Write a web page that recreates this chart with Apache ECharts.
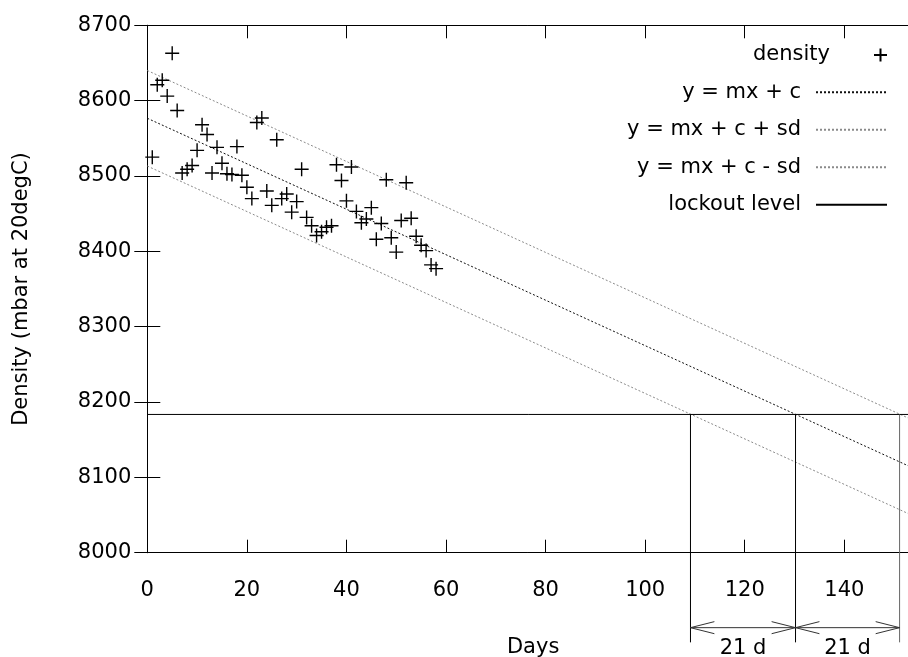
<!DOCTYPE html>
<html><head><meta charset="utf-8">
<script src="https://cdn.jsdelivr.net/npm/echarts@6/dist/echarts.min.js"></script>
<style>html,body{margin:0;padding:0;background:#fff}#c{width:908px;height:657px}</style>
</head><body><div id="c"></div>
<script>
// ---- data ----
const days = [1,2,3,4,5,6,7,8,9,10,11,12,13,14,15,16,17,18,19,20,21,22,23,24,25,26,27,28,29,30,31,32,33,34,35,36,37,38,39,40,41,42,43,44,45,46,47,48,49,50,51,52,53,54,55,56,57,58];
const density = [8525,8621,8627,8606,8663,8587,8504,8509,8514,8534,8568,8555,8504,8538,8517,8503,8502,8539,8501,8485,8470,8571,8577,8480,8461,8548,8470,8476,8452,8466,8509,8445,8434,8421,8426,8432,8434,8515,8494,8467,8512,8453,8438,8443,8458,8416,8437,8495,8418,8399,8441,8491,8444,8420,8408,8401,8382,8377];
const fitX = [0, 155];
const fitMid = [8576.6, 8108.8];
const fitUpper = [8640.0, 8172.2];
const fitLower = [8513.2, 8045.4];
const lockoutLevel = 8183.5;
const crossDays = [109.1, 130.2, 151.1];
const markerBottom = 7881;
const arrowY = 7900.5;
const arrowSpans = [[109.1, 130.2], [130.2, 151.1]];
const spanLabels = ['21 d', '21 d'];
const spanLabelY = 7873;
const headLen = 4.8, headHalf = 8;
const xTicks = {min: 0, max: 155, interval: 20};
const yTicks = {min: 8000, max: 8700, interval: 100};
const legendNames = ['density', 'y = mx + c', 'y = mx + c + sd', 'y = mx + c - sd', 'lockout level'];

// ---- chart ----
const FONT = 'DejaVu Sans';
const FS = 21;
const plusPath = 'path://M0,5L10,5M5,0L5,10';
const chart = echarts.init(document.getElementById('c'), null, {renderer: 'canvas'});

const series = [];
series.push({
  name: 'density', type: 'scatter', silent: true, z: 5, clip: false,
  data: days.map((d, i) => [d, density[i]]),
  symbol: plusPath, symbolSize: 14,
  itemStyle: {color: 'rgba(0,0,0,0)', borderColor: '#000', borderWidth: 1.4, opacity: 1}
});
function fitSeries(name, ys, color, dash) {
  return {name, type: 'line', silent: true, symbol: 'none', z: 3,
    data: fitX.map((x, i) => [x, ys[i]]),
    lineStyle: {color, width: 1, type: dash}, itemStyle: {color}};
}
series.push(fitSeries('y = mx + c', fitMid, '#111', [2, 2]));
series.push(fitSeries('y = mx + c + sd', fitUpper, '#8a8a8a', [2, 2]));
series.push(fitSeries('y = mx + c - sd', fitLower, '#8a8a8a', [2, 2]));
series.push({name: 'lockout level', type: 'line', silent: true, symbol: 'none', z: 3,
  data: [[xTicks.min, lockoutLevel], [xTicks.max, lockoutLevel]],
  lineStyle: {color: '#000', width: 1, type: 'solid'}, itemStyle: {color: '#000'}});
crossDays.forEach((c, i) => {
  series.push({type: 'line', silent: true, symbol: 'none', clip: false, z: 4,
    data: [[c, lockoutLevel], [c, markerBottom]],
    lineStyle: {color: i === 2 ? '#666' : '#000', width: 1}});
});
arrowSpans.forEach(([a, b]) => {
  const st = {color: '#333', width: 1};
  series.push({type: 'line', silent: true, symbol: 'none', clip: false, z: 4,
    data: [[a, arrowY], [b, arrowY]], lineStyle: st});
  series.push({type: 'line', silent: true, symbol: 'none', clip: false, z: 4,
    data: [[a + headLen, arrowY + headHalf], [a, arrowY], [a + headLen, arrowY - headHalf]], lineStyle: st});
  series.push({type: 'line', silent: true, symbol: 'none', clip: false, z: 4,
    data: [[b - headLen, arrowY + headHalf], [b, arrowY], [b - headLen, arrowY - headHalf]], lineStyle: st});
});
series.push({type: 'scatter', silent: true, clip: false, symbolSize: 0,
  itemStyle: {opacity: 1, color: '#000'},
  data: arrowSpans.map(([a, b]) => [(a + b) / 2, spanLabelY]),
  label: {show: true, position: 'inside', fontFamily: FONT, fontSize: FS, color: '#000', opacity: 1,
    formatter: p => spanLabels[p.dataIndex]}});

const rowCenters = [57, 94.3, 131.7, 169.3, 206.7];
const legends = legendNames.map((n, i) => ({
  data: [n], orient: 'vertical', align: 'right', right: 15,
  top: rowCenters[i] - 17.5, itemWidth: 71, itemHeight: 13, selectedMode: false,
  itemStyle: i === 0 ? {opacity: 1} : {opacity: 0},
  textStyle: {fontFamily: FONT, fontSize: FS, color: '#000', padding: [0, 10, 0, 0]}
}));

const axisLineStyle = {color: '#000', width: 1};
chart.setOption({
  animation: false,
  backgroundColor: '#fff',
  textStyle: {fontFamily: FONT},
  grid: {left: 147.3, top: 25.3, right: -11, bottom: 104.3, containLabel: false, outerBoundsMode: 'none'},
  legend: legends,
  xAxis: [{
    type: 'value', position: 'bottom', min: xTicks.min, max: xTicks.max, interval: xTicks.interval,
    axisLine: {show: true, lineStyle: axisLineStyle},
    axisTick: {show: true, inside: true, length: 13, lineStyle: axisLineStyle},
    axisLabel: {margin: 27, fontFamily: FONT, fontSize: FS, color: '#000', showMaxLabel: false},
    splitLine: {show: false},
    name: 'Days', nameLocation: 'middle', nameGap: 84, nameMoveOverlap: false,
    nameTextStyle: {fontFamily: FONT, fontSize: FS, color: '#000'}
  }, {
    type: 'value', position: 'top', min: xTicks.min, max: xTicks.max, interval: xTicks.interval,
    axisLine: {show: true, lineStyle: axisLineStyle},
    axisTick: {show: true, inside: true, length: 13, lineStyle: axisLineStyle},
    axisLabel: {show: false}, splitLine: {show: false}
  }],
  yAxis: [{
    type: 'value', position: 'left', min: yTicks.min, max: yTicks.max, interval: yTicks.interval,
    axisLine: {show: true, lineStyle: axisLineStyle},
    axisTick: {show: true, inside: true, length: 13, lineStyle: axisLineStyle},
    axisLabel: {margin: 16, fontFamily: FONT, fontSize: FS, color: '#000', formatter: v => String(v)},
    splitLine: {show: false},
    name: 'Density (mbar at 20degC)', nameLocation: 'middle', nameGap: 115, nameMoveOverlap: false,
    nameTextStyle: {fontFamily: FONT, fontSize: FS, color: '#000'}
  }, {
    type: 'value', position: 'right', min: yTicks.min, max: yTicks.max, interval: yTicks.interval,
    axisLine: {show: true, lineStyle: axisLineStyle},
    axisTick: {show: true, inside: true, length: 13, lineStyle: axisLineStyle},
    axisLabel: {show: false}, splitLine: {show: false}
  }],
  series
});
</script></body></html>
